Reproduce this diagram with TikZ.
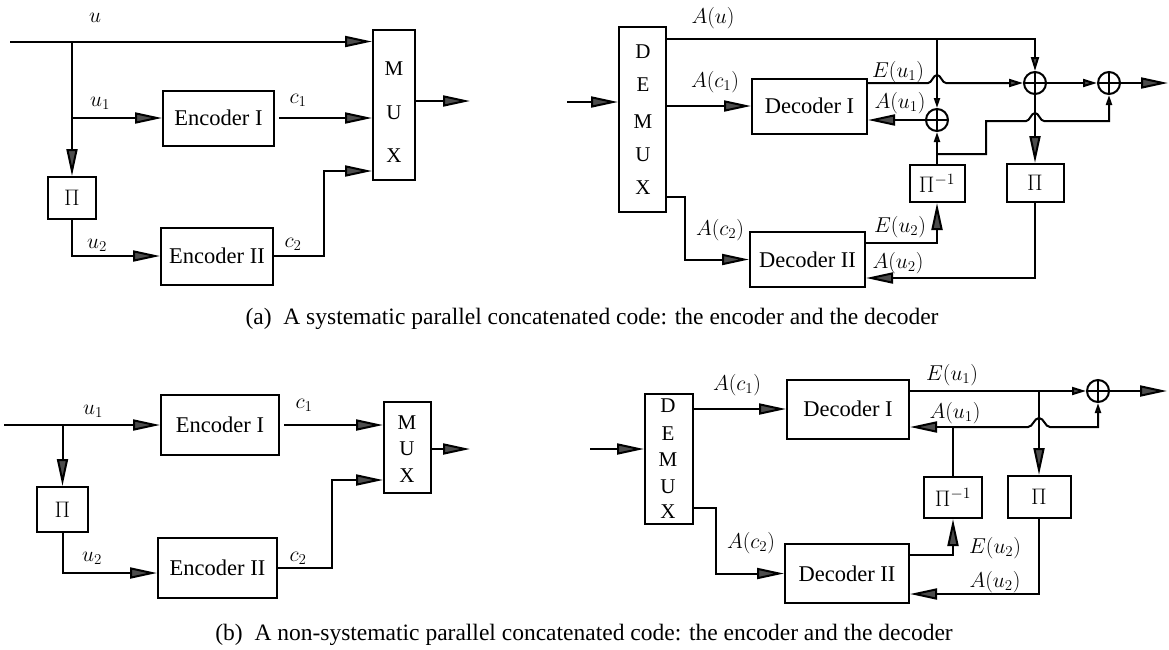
\RequirePackage{fix-cm}
\documentclass[tikz,border=0pt]{standalone}
\usepackage[no-math]{fontspec}
\setmainfont{Liberation Serif}
\usetikzlibrary{arrows.meta,calc}

\tikzset{
  wire/.style={line width=2pt},
  blk/.style={draw, line width=2pt, inner sep=0pt, font=\fontsize{22.5}{25}\selectfont},
  letter/.style={inner sep=0pt, font=\fontsize{21}{23}\selectfont},
  sum/.style={circle, draw, line width=2pt, minimum size=22pt, inner sep=0pt,
    path picture={\draw[line width=2pt]
      (path picture bounding box.north) -- (path picture bounding box.south)
      (path picture bounding box.west) -- (path picture bounding box.east);}},
  big/.style={wire, -{Triangle[length=27pt,width=11pt,fill=black!70]}},
  mid/.style={wire, -{Triangle[length=14pt,width=8pt,fill=black!70]}},
  sml/.style={wire, -{Triangle[length=10pt,width=6pt,fill=black!70]}},
  lbl/.style={inner sep=0pt, font=\fontsize{21.5}{23}\selectfont},
  caption/.style={inner sep=0pt, font=\fontsize{23.5}{26}\selectfont},
}

\begin{document}
\begin{tikzpicture}[x=1pt, y=-1pt]
\useasboundingbox (0,0) rectangle (1169,649);

% ---------------- (a) systematic encoder ----------------
\node[blk, minimum width=111pt, minimum height=55pt] (encA) at (218.5,118) {Encoder I};
\node[blk, minimum width=112pt, minimum height=57pt] (encB) at (217,256) {Encoder II};
\node[blk, minimum width=48pt, minimum height=42pt] (piA) at (72,198) {$\Pi$};
\node[blk, minimum width=42pt, minimum height=150pt] (muxA) at (394,105) {};
\node[letter] (muxA1) at (394,69) {M};
\node[letter] (muxA2) at (394,113) {U};
\node[letter] (muxA3) at (394,156) {X};

\coordinate (srcA) at (10,41.5);
\coordinate (jA1) at (72,41.5);
\coordinate (jA2) at (72,118);
\coordinate (kA) at (324,171);
\coordinate (outA) at (470,101);

\draw[big] (srcA) -- (srcA -| muxA.west);
\draw[big] (jA1) -- (piA.north);
\draw[big] (jA2) -- (encA.west);
\draw[big, shorten <=4pt] (encA.east) -- (encA.east -| muxA.west);
\draw[big] (piA.south) |- (encB.west);
\draw[big] (encB.east) -| (kA) -- (kA -| muxA.west);
\draw[big] (muxA.east |- outA) -- (outA);

\node[lbl] (lu) at (95,18) {$u$};
\node[lbl] (lu1) at (100,103) {$u_1$};
\node[lbl] (lc1) at (298,100) {$c_1$};
\node[lbl] (lu2) at (97,245) {$u_2$};
\node[lbl] (lc2) at (293,244) {$c_2$};

% ---------------- (a) systematic decoder ----------------
\node[blk, minimum width=47pt, minimum height=185pt] (demA) at (642.5,119.5) {};
\node[letter] (demA1) at (643,52) {D};
\node[letter] (demA2) at (643,85) {E};
\node[letter] (demA3) at (643,122) {M};
\node[letter] (demA4) at (643,155) {U};
\node[letter] (demA5) at (643,188) {X};
\node[blk, minimum width=115pt, minimum height=55pt] (decA1) at (809.5,106) {Decoder I};
\node[blk, minimum width=115pt, minimum height=55pt] (decA2) at (807.5,259.5) {Decoder II};
\node[blk, minimum width=55pt, minimum height=37pt] (pinvA) at (937,183.5) {$\Pi^{-1}$};
\node[blk, minimum width=57pt, minimum height=38pt] (ppA) at (1035,183) {$\Pi$};
\node[sum] (s1) at (937,120) {};
\node[sum] (s2) at (1035,83) {};
\node[sum] (s3) at (1109,83) {};

\coordinate (srcB) at (567,102);
\coordinate (auA) at (666,39);
\coordinate (jAu) at (937,39);
\coordinate (xA) at (666,197);
\coordinate (kxA) at (685,197);
\coordinate (eA1) at (867,83);
\coordinate (jPi) at (937,154);
\coordinate (kP1) at (986,154);
\coordinate (kP2) at (986,121);
\coordinate (outB) at (1168,83);
\coordinate (au2A) at ($(decA2.east)+(0,18.5)$);
\coordinate (eu2A) at ($(decA2.east)+(0,-16.5)$);

\draw[big] (srcB) -- (srcB -| demA.west);
\draw[mid] (auA) -| (s2.north);
\draw[sml] (jAu) -- (s1.north);
\draw[big] (decA1.west -| demA.east) -- (decA1.west);
\draw[big] (xA) -- (kxA) |- (decA2.west);
% E(u1) hops over the A(u) branch
\draw[mid] (eA1) -- ($(jAu |- eA1)+(-9,0)$)
  .. controls +(4,0) and +(-4,0) .. ++(9,-8)
  .. controls +(4,0) and +(-4,0) .. ++(9,8) -- (s2.west);
\draw[big] (s1.west) -- (s1.west -| decA1.east);
\draw[sml] (pinvA.north) -- (s1.south);
% extrinsic branch hops over the line to the interleaver
\draw[sml] (jPi) -- (kP1) -- (kP2) -- ($(s2 |- kP2)+(-9,0)$)
  .. controls +(4,0) and +(-4,0) .. ++(9,-8)
  .. controls +(4,0) and +(-4,0) .. ++(9,8) -- (s3 |- kP2) -- (s3.south);
\draw[big] (s2.south) -- (ppA.north);
\draw[mid] (s2.east) -- (s3.west);
\draw[big] (s3.east) -- (outB);
\draw[big] (ppA.south) |- (au2A);
\draw[big] (eu2A) -| (pinvA.south);

\node[lbl] (lAu) at (713,18) {$A(u)$};
\node[lbl] (lAc1) at (715,82) {$A(c_1)$};
\node[lbl] (lAc2) at (720,230) {$A(c_2)$};
\node[lbl] (lEu1) at (898,72) {$E(u_1)$};
\node[lbl] (lAu1) at (900,103) {$A(u_1)$};
\node[lbl] (lEu2) at (900,227) {$E(u_2)$};
\node[lbl] (lAu2) at (898,263) {$A(u_2)$};

\node[caption] (capA) at (592,319) {(a)\enspace A systematic parallel concatenated code: the encoder and the decoder};

% ---------------- (b) non-systematic encoder ----------------
\node[blk, minimum width=118pt, minimum height=60pt] (encC) at (220,425) {Encoder I};
\node[blk, minimum width=51pt, minimum height=45pt] (piC) at (62.5,509.5) {$\Pi$};
\node[blk, minimum width=47pt, minimum height=91pt] (muxC) at (407.5,447.5) {};
\node[letter] (muxC1) at (407,423) {M};
\node[letter] (muxC2) at (407,449) {U};
\node[letter] (muxC3) at (407,476) {X};
\node[blk, minimum width=119pt, minimum height=60pt] (encD) at (217.5,568) {Encoder II};

\coordinate (srcC) at (4,425);
\coordinate (jC) at (62.5,425);
\coordinate (kD) at ($(encD.west)+(0,5)$);
\coordinate (kC) at (332,480);
\coordinate (outC) at (470,449);

\draw[big] (srcC) -- (encC.west);
\draw[big] (jC) -- (piC.north);
\draw[big, shorten <=4pt] (encC.east) -- (encC.east -| muxC.west);
\draw[big] (piC.south) |- (kD);
\draw[big] (encD.east) -| (kC) -- (kC -| muxC.west);
\draw[big] (muxC.east |- outC) -- (outC);

\node[lbl] (lu1C) at (93,411) {$u_1$};
\node[lbl] (lc1C) at (304,405) {$c_1$};
\node[lbl] (lu2C) at (92,558) {$u_2$};
\node[lbl] (lc2C) at (298,558) {$c_2$};

% ---------------- (b) non-systematic decoder ----------------
\node[blk, minimum width=48pt, minimum height=130pt] (demC) at (669,459) {};
\node[letter] (demC1) at (668,406) {D};
\node[letter] (demC2) at (668,434) {E};
\node[letter] (demC3) at (668,460) {M};
\node[letter] (demC4) at (668,487) {U};
\node[letter] (demC5) at (668,512) {X};
\node[blk, minimum width=122pt, minimum height=59pt] (decC1) at (848,409) {Decoder I};
\node[blk, minimum width=124pt, minimum height=59pt] (decC2) at (847,573.5) {Decoder II};
\node[blk, minimum width=58pt, minimum height=41pt] (pinvC) at (953,497.5) {$\Pi^{-1}$};
\node[blk, minimum width=63pt, minimum height=42pt] (ppC) at (1039,497) {$\Pi$};
\node[sum] (sC) at (1098,391) {};

\coordinate (srcD) at (590,449);
\coordinate (xC) at (693,508);
\coordinate (kxC) at (716,508);
\coordinate (e1C) at (909,391);
\coordinate (outD) at (1167,391);
\coordinate (jC2) at (1039,391);
\coordinate (jA1C) at (953,427);
\coordinate (eu2C) at ($(decC2.east)+(0,-18.5)$);
\coordinate (au2C) at ($(decC2.east)+(0,20.5)$);

\draw[big] (srcD) -- (srcD -| demC.west);
\draw[big] (decC1.west -| demC.east) -- (decC1.west);
\draw[big] (xC) -- (kxC) |- (decC2.west);
\draw[mid] (e1C) -- (sC.west);
\draw[big] (sC.east) -- (outD);
\draw[big] (jC2) -- (ppC.north);
\draw[wire] (pinvC.north) -- (jA1C);
\draw[big] (jA1C) -- (jA1C -| decC1.east);
% A(u1) feed to the output adder hops over the interleaver input
\draw[sml] (jA1C) -- ($(ppC |- jA1C)+(-11,0)$)
  .. controls +(5,0) and +(-5,0) .. ++(11,-9)
  .. controls +(5,0) and +(-5,0) .. ++(11,9) -- (sC |- jA1C) -- (sC.south);
\draw[big] (eu2C) -| (pinvC.south);
\draw[big] (ppC.south) |- (au2C);

\node[lbl] (lAc1C) at (737,385) {$A(c_1)$};
\node[lbl] (lAc2C) at (751,543) {$A(c_2)$};
\node[lbl] (lEu1C) at (952,375) {$E(u_1)$};
\node[lbl] (lAu1C) at (955,413) {$A(u_1)$};
\node[lbl] (lEu2C) at (995,548) {$E(u_2)$};
\node[lbl] (lAu2C) at (995,582) {$A(u_2)$};

\node[caption] (capB) at (584,635) {(b)\enspace A non-systematic parallel concatenated code: the encoder and the decoder};

\end{tikzpicture}
\end{document}
